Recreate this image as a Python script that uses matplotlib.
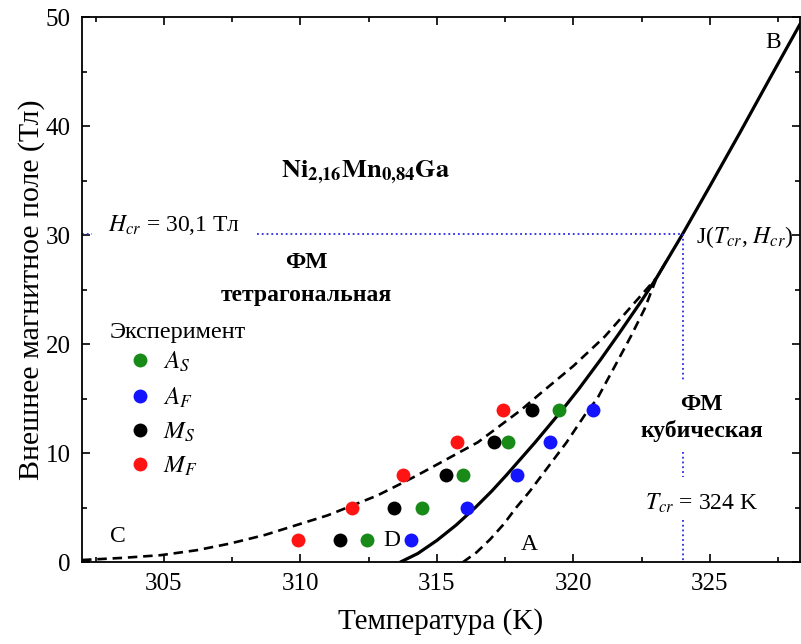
import matplotlib
matplotlib.use("Agg")
import matplotlib.pyplot as plt

# ── Data ──────────────────────────────────────────────────────────────────────
# experimental points: field (T) vs temperature (K)
field_levels = [2, 5, 8, 11, 14]
as_temp = [312.45, 314.47, 315.97, 317.6, 319.47]
af_temp = [314.04, 316.09, 317.95, 319.14, 320.7]
ms_temp = [311.45, 313.44, 315.33, 317.1, 318.5]
mf_temp = [309.92, 311.9, 313.77, 315.72, 317.41]

# solid boundary D - J - B
solid_T = [313.65, 314.3, 315.0, 315.7, 316.4, 317.0, 317.55, 318.6, 319.6,
           320.2, 321.0, 321.65, 322.5, 323.05, 324.0, 325.0, 326.1, 327.2, 328.4]
solid_H = [0.0, 0.8, 2.0, 3.4, 5.0, 6.5, 8.0, 11.0, 14.0,
           15.9, 18.6, 20.9, 24.0, 26.1, 30.1, 34.5, 39.4, 44.4, 49.8]

# upper dashed boundary C - J
upper_T = [302.0, 303.5, 304.9, 306.2, 307.4, 308.7, 309.85, 311.0, 311.9, 312.8,
           313.6, 314.3, 315.4, 316.5, 317.3, 318.1, 318.8, 320.0, 321.15, 322.1,
           323.05, 323.4]
upper_H = [0.2, 0.4, 0.65, 1.1, 1.7, 2.5, 3.4, 4.3, 5.2, 6.1,
           7.1, 8.0, 9.5, 11.0, 12.5, 14.0, 15.5, 18.0, 20.7, 23.4,
           26.1, 27.6]

# lower dashed boundary A - J
lower_T = [315.95, 316.45, 316.95, 317.45, 317.9, 318.4, 318.85, 319.3, 319.75,
           320.55, 320.85, 321.5, 322.1, 322.6, 323.05, 323.4]
lower_H = [0.0, 0.9, 2.1, 3.5, 5.0, 6.5, 8.0, 9.5, 11.0,
           14.0, 14.9, 17.9, 20.7, 23.2, 26.1, 27.6]

T_CR = 324.0
H_CR = 30.1

# ── Style ─────────────────────────────────────────────────────────────────────
plt.rcParams['font.family'] = ['Liberation Serif', 'DejaVu Serif']
plt.rcParams['mathtext.fontset'] = 'stix'

GREEN = '#178a17'
BLUE = '#1414ff'
RED = '#ff1414'
DOT_BLUE = '#2a2ae6'
FS = 17

fig = plt.figure(figsize=(8.01, 6.44), dpi=100)
ax = fig.add_axes([0.1024, 0.127, 0.8964, 0.8466])

# boundaries
ax.plot(solid_T, solid_H, color='black', lw=2.3, solid_capstyle='butt')
ax.plot(upper_T, upper_H, color='black', lw=1.9, ls=(0, (3.6, 2.2)))
ax.plot(lower_T, lower_H, color='black', lw=1.9, ls=(0, (3.6, 2.2)))

# critical point guides
ax.plot([308.4, T_CR], [H_CR, H_CR], color=DOT_BLUE, lw=1.3, ls=':')
ax.plot([302.0, 302.35], [H_CR, H_CR], color=DOT_BLUE, lw=1.3, ls=':')
for h_top, h_bot in [(H_CR, 16.56), (10.14, 7.84), (3.9, 0.0)]:
    ax.plot([T_CR, T_CR], [h_top, h_bot], color=DOT_BLUE, lw=1.3, ls=':')

# experimental points
ms = 10
ax.plot(as_temp, field_levels, 'o', color=GREEN, ms=ms, mec='none', label='$A_S$')
ax.plot(af_temp, field_levels, 'o', color=BLUE, ms=ms, mec='none', label='$A_F$')
ax.plot(ms_temp, field_levels, 'o', color='black', ms=ms, mec='none', label='$M_S$')
ax.plot(mf_temp, field_levels, 'o', color=RED, ms=ms, mec='none', label='$M_F$')

ax.text(303.0, 20.6, 'Эксперимент', fontsize=17.5, ha='left', va='baseline')
ax.legend(loc='upper left', bbox_to_anchor=(0.0634, 0.389), frameon=False,
          fontsize=18, handlelength=1.0, handletextpad=0.42, labelspacing=0.44,
          borderpad=0, borderaxespad=0)

# annotations
ax.text(312.4, 35.8,
        r'$\mathbf{Ni}_{\mathbf{2{,}16}}\mathbf{Mn}_{\mathbf{0{,}84}}\mathbf{Ga}$',
        fontsize=19, ha='center', va='center')
ax.text(310.2, 26.95, 'ФМ', fontsize=FS, fontweight='bold', ha='center', va='baseline')
ax.text(310.2, 24.0, 'тетрагональная', fontsize=FS, fontweight='bold', ha='center', va='baseline')
ax.text(324.7, 14.0, 'ФМ', fontsize=FS, fontweight='bold', ha='center', va='baseline')
ax.text(324.7, 11.5, 'кубическая', fontsize=FS, fontweight='bold', ha='center', va='baseline')
ax.text(302.95, 30.35, '$H_{cr}$ = 30,1 Тл', fontsize=FS, ha='left', va='baseline')
ax.text(324.5, 29.3, 'J($T_{cr}$, $H_{cr}$)', fontsize=FS, ha='left', va='baseline')
ax.text(324.7, 4.8, '$T_{cr}$ = 324 K', fontsize=FS, ha='center', va='baseline')
ax.text(327.3, 47.7, 'B', fontsize=17, ha='center', va='center')
ax.text(303.3, 2.4, 'C', fontsize=17, ha='center', va='center')
ax.text(313.35, 2.0, 'D', fontsize=17, ha='center', va='center')
ax.text(318.4, 1.6, 'A', fontsize=17, ha='center', va='center')

# axes
ax.set_xlim(302.0, 328.3)
ax.set_ylim(0, 50)
ax.set_xticks([305, 310, 315, 320, 325])
ax.set_xticks([302.5, 307.5, 312.5, 317.5, 322.5, 327.5], minor=True)
ax.set_yticks([0, 10, 20, 30, 40, 50])
ax.set_yticks([5, 15, 25, 35, 45], minor=True)
ax.tick_params(which='both', direction='in', top=True, right=True,
               labelsize=18, width=1.2, pad=8)
ax.tick_params(which='major', length=6)
ax.tick_params(which='minor', length=3.5)
for sp in ax.spines.values():
    sp.set_linewidth(1.3)

ax.set_xlabel('Температура (K)', fontsize=21, labelpad=9)
ax.set_ylabel('Внешнее магнитное поле (Тл)', fontsize=21.5, labelpad=1)

fig.savefig('out.png', dpi=100)
